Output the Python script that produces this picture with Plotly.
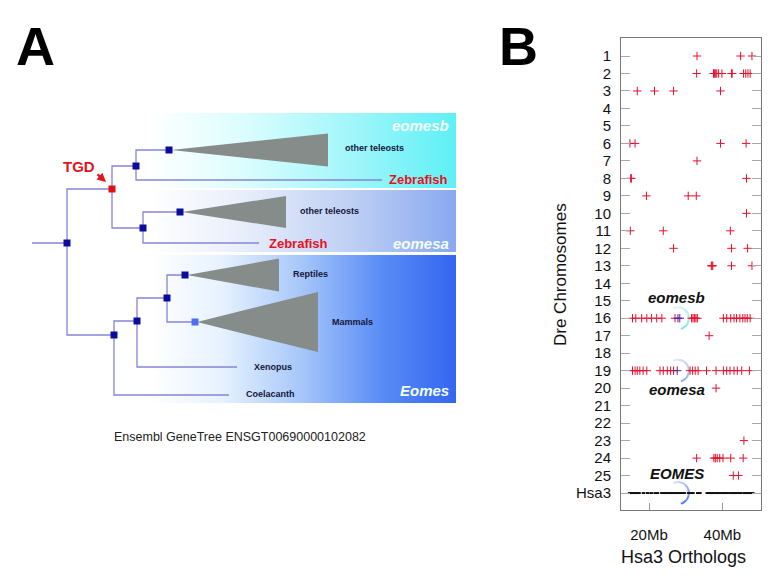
import numpy as np
import plotly.graph_objects as go

W, H = 777, 582
OFF = 8                      # page body margin of the html page
FW, FH = W - 2 * OFF, H - 2 * OFF
FONT = "Liberation Sans, Arial, sans-serif"

# ---------------- Panel B data ----------------
chrom_labels = [str(i) for i in range(1, 26)] + ["Hsa3"]
x_tick_vals = [20, 40]
x_tick_text = ["20Mb", "40Mb"]

# Dre ortholog positions (Mb on Hsa3) for chromosomes 1..25
hits_mb = [
    [33.1, 45.0, 48.1],                                                   # 1
    [33.0, 37.6, 37.9, 38.2, 38.5, 39.0, 39.9, 42.5, 42.7, 45.8, 46.4, 47.0, 47.6],  # 2
    [16.8, 21.5, 26.7, 39.5],                                             # 3
    [],                                                                   # 4
    [],                                                                   # 5
    [14.8, 16.2, 39.5, 46.5],                                             # 6
    [33.1],                                                               # 7
    [15.0, 15.2, 46.6],                                                   # 8
    [19.3, 30.7, 32.9],                                                   # 9
    [46.6],                                                               # 10
    [14.9, 23.9, 42.2],                                                   # 11
    [26.7, 42.5, 46.9],                                                   # 12
    [37.0, 37.2, 37.4, 42.5, 48.1],                                       # 13
    [],                                                                   # 14
    [],                                                                   # 15
    [15.5, 16.4, 18.0, 19.4, 20.7, 22.1, 23.5, 27.1, 31.6, 32.0, 32.4, 32.8, 33.2,
     40.3, 41.2, 42.3, 43.2, 43.9, 44.8, 45.6, 46.2, 46.8, 47.6],         # 16
    [36.4],                                                               # 17
    [],                                                                   # 18
    [15.5, 16.2, 16.8, 17.5, 18.4, 19.4, 23.0, 23.9, 25.0, 25.9, 26.7, 31.2, 31.9,
     32.6, 33.4, 35.7, 38.3, 40.3, 41.2, 42.1, 43.2, 44.1, 45.3, 47.4],   # 19
    [38.3],                                                               # 20
    [],                                                                   # 21
    [],                                                                   # 22
    [45.9],                                                               # 23
    [33.0, 37.7, 38.1, 38.6, 39.3, 40.2, 42.3, 45.7],                     # 24
    [43.0, 44.4],                                                         # 25
]
# EOMES orthologs themselves (highlighted)
eomes_rows = [16, 16, 19]
eomes_mb = [27.9, 28.4, 27.7]
eomes_labels = ["eomesb", "eomesa", "EOMES"]
eomes_label_rows = [14.84, 20.1, 24.86]
eomes_center_mb = 27.9
arc_rows = [16, 19, 26]

# Hsa3 genes (Mb)
hsa3_genes_mb = [14.7, 15.3, 16.0, 16.6, 17.3, 18.5, 19.6, 20.6, 21.7, 22.3,
                 23.5, 24.1, 24.7, 25.6, 26.2, 27.0, 27.6, 28.4, 29.0, 29.6,
                 30.8, 31.4, 32.0, 33.3, 33.9, 35.9, 36.5, 37.1, 37.7, 38.3,
                 38.9, 39.8, 40.4, 41.0, 41.6, 42.5, 43.1, 43.7, 44.3, 44.9,
                 45.9, 46.5, 47.1, 47.7, 48.3]

# ---------------- Panel A data (tree, pixel layout) ----------------
# node: (x, y, parent, marker)
tree_nodes = {
    "root":    (67, 243, None, "dark"),
    "tgd":     (112, 189, "root", "red"),
    "b_node":  (136, 166, "tgd", "dark"),
    "b_tele":  (169, 150, "b_node", "dark"),
    "b_zf":    (382, 180, "b_node", None),
    "a_node":  (143, 228, "tgd", "dark"),
    "a_tele":  (180, 212, "a_node", "dark"),
    "a_zf":    (259, 243, "a_node", None),
    "e_node":  (114, 335, "root", "dark"),
    "sarc":    (137, 321, "e_node", "dark"),
    "amniote": (167, 298, "sarc", "dark"),
    "rept":    (185, 275, "amniote", "dark"),
    "mamm":    (195, 322, "amniote", "light"),
    "xen":     (237, 367, "sarc", None),
    "coel":    (229, 395, "e_node", None),
}
root_stem_x = 32
# collapsed clades: (apex node, right x, half height)
clades = [("b_tele", 328, 16.5), ("a_tele", 286, 16), ("rept", 279, 16.5), ("mamm", 318, 30)]
leaf_labels = [
    ("other teleosts", 343, 148, "#15153a", 9),
    ("Zebrafish", 387, 180, "#e3141e", 13),
    ("other teleosts", 298, 211, "#15153a", 9),
    ("Zebrafish", 267, 243, "#e3141e", 13),
    ("Reptiles", 291, 274, "#15153a", 9),
    ("Mammals", 330, 322, "#15153a", 9),
    ("Xenopus", 252, 367, "#15153a", 9),
    ("Coelacanth", 244, 394, "#15153a", 9),
]
# background bands: (name, y0, y1, colorscale stops)
bands = [
    ("eomesb", 113, 188, [[0, "#ffffff"], [0.14, "#ffffff"], [0.4, "#dcfdfe"], [0.7, "#a2f6fa"], [1, "#5ef0f6"]]),
    ("eomesa", 190, 252, [[0, "#ffffff"], [0.14, "#ffffff"], [0.4, "#e8eefb"], [0.7, "#bfd0f4"], [1, "#88a8f0"]]),
    ("Eomes", 255, 403, [[0, "#ffffff"], [0.14, "#ffffff"], [0.34, "#e6f2fe"], [0.56, "#a8c8fa"], [0.79, "#5a8cf5"], [1, "#3366f0"]]),
]
band_x0, band_x1 = 100, 456
band_label_y = [125, 243, 390]

fig = go.Figure()

# ---- Panel A ----
for name, y0, y1, cs in bands:
    fig.add_trace(go.Scatter(
        x=[band_x0, band_x1, band_x1, band_x0, band_x0], y=[y0, y0, y1, y1, y0],
        mode="lines", line=dict(width=0), fill="toself",
        fillgradient=dict(type="horizontal", colorscale=cs),
        xaxis="x2", yaxis="y2", hoverinfo="skip", showlegend=False))

for apex, xr, hh in clades:
    ax_, ay_ = tree_nodes[apex][:2]
    fig.add_trace(go.Scatter(
        x=[ax_ + 2, xr, xr, ax_ + 2], y=[ay_, ay_ - hh, ay_ + hh, ay_],
        mode="lines", line=dict(width=0), fill="toself", fillcolor="#858c89",
        xaxis="x2", yaxis="y2", hoverinfo="skip", showlegend=False))

lx, ly = [root_stem_x, tree_nodes["root"][0], None], [tree_nodes["root"][1]] * 2 + [None]
for k, (x, y, parent, _) in tree_nodes.items():
    if parent is None:
        continue
    px, py = tree_nodes[parent][:2]
    lx += [px, px, x, None]
    ly += [py, y, y, None]
fig.add_trace(go.Scatter(x=lx, y=ly, mode="lines", line=dict(color="#8585d6", width=1.3),
                         xaxis="x2", yaxis="y2", hoverinfo="skip", showlegend=False))

node_colors = {"dark": "#0b0b9c", "red": "#dd1111", "light": "#4a70ee"}
for kind, col in node_colors.items():
    pts = [(v[0], v[1]) for v in tree_nodes.values() if v[3] == kind]
    fig.add_trace(go.Scatter(x=[p[0] for p in pts], y=[p[1] for p in pts], mode="markers",
                             marker=dict(symbol="square", size=7, color=col),
                             xaxis="x2", yaxis="y2", hoverinfo="skip", showlegend=False))

annotations = []
def pa(x, y):
    return (x - OFF) / FW, 1 - (y - OFF) / FH

for text, x, y, col, size in leaf_labels:
    X, Y = pa(x, y)
    annotations.append(dict(text=f"<b>{text}</b>", x=X, y=Y, xref="paper", yref="paper",
                            xanchor="left", yanchor="middle", showarrow=False,
                            font=dict(family=FONT, size=size, color=col)))
for (name, _, _, _), y in zip(bands, band_label_y):
    X, Y = pa(451, y)
    annotations.append(dict(text=f"<b><i>{name}</i></b>", x=X, y=Y, xref="paper", yref="paper",
                            xanchor="right", yanchor="middle", showarrow=False,
                            font=dict(family=FONT, size=15, color="#f2ffff")))
X, Y = pa(79, 166)
annotations.append(dict(text="<b>TGD</b>", x=X, y=Y, xref="paper", yref="paper",
                        xanchor="center", yanchor="middle", showarrow=False,
                        font=dict(family=FONT, size=15, color="#e3141e")))
X, Y = pa(106, 182)
annotations.append(dict(text="", x=X, y=Y, xref="paper", yref="paper", ax=-10, ay=-9,
                        showarrow=True, arrowhead=2, arrowsize=0.8, arrowwidth=2.2, arrowcolor="#e3141e"))
X, Y = pa(240, 437)
annotations.append(dict(text="Ensembl GeneTree ENSGT00690000102082", x=X, y=Y, xref="paper", yref="paper",
                        xanchor="center", yanchor="middle", showarrow=False,
                        font=dict(family=FONT, size=12.5, color="#222222")))
for letter, x in (("A", 35), ("B", 518)):
    X, Y = pa(x, 46)
    annotations.append(dict(text=f"<b>{letter}</b>", x=X, y=Y, xref="paper", yref="paper",
                            xanchor="center", yanchor="middle", showarrow=False,
                            font=dict(family=FONT, size=54, color="#000000")))

# ---- Panel B ----
X0, X1 = 12.36, 50.56
Y0, Y1 = 26.97, -0.03
px_l, px_r, px_t, px_b = 621, 761, 38, 510
ppm = (px_r - px_l) / (X1 - X0)
ppr = (px_b - px_t) / (Y0 - Y1)

arc_colors = ["#6fe2f0", "#86a6ec", "#3f70e4"]
for row, col in zip(arc_rows, arc_colors):
    t = np.linspace(np.deg2rad(115), np.deg2rad(-75), 7)
    r = 11
    for i in range(6):
        tt = np.linspace(t[i], t[i + 1], 6)
        fig.add_trace(go.Scatter(
            x=eomes_center_mb + r * np.cos(tt) / ppm, y=row - r * np.sin(tt) / ppr,
            mode="lines", line=dict(color=col, width=2), opacity=0.25 + 0.13 * i,
            hoverinfo="skip", showlegend=False))

hx, hy = [], []
for i, vals in enumerate(hits_mb):
    hx += vals
    hy += [i + 1] * len(vals)
fig.add_trace(go.Scatter(x=hx, y=hy, mode="markers",
                         marker=dict(symbol="cross-thin", size=6, color="#e8102c",
                                     line=dict(color="#e8102c", width=1)),
                         showlegend=False))
fig.add_trace(go.Scatter(x=eomes_mb, y=eomes_rows, mode="markers",
                         marker=dict(symbol="cross-thin", size=6, color="#5020a0",
                                     line=dict(color="#5020a0", width=1)),
                         showlegend=False))
fig.add_trace(go.Scatter(x=hsa3_genes_mb, y=[26] * len(hsa3_genes_mb), mode="markers",
                         marker=dict(symbol="line-ew", size=2.5,
                                     line=dict(color="#111111", width=2)),
                         showlegend=False))

for text, r in zip(eomes_labels, eomes_label_rows):
    annotations.append(dict(text=f"<b><i>{text}</i></b>", x=27.6, y=r, xref="x", yref="y",
                            showarrow=False, xanchor="center", yanchor="middle",
                            font=dict(family=FONT, size=15, color="#111111")))
X, Y = pa(560, 275)
annotations.append(dict(text="Dre Chromosomes", x=X, y=Y, xref="paper", yref="paper", textangle=-90,
                        showarrow=False, xanchor="center", yanchor="middle",
                        font=dict(family=FONT, size=17, color="#111111")))
X, Y = pa(683, 557)
annotations.append(dict(text="Hsa3 Orthologs", x=X, y=Y, xref="paper", yref="paper",
                        showarrow=False, xanchor="center", yanchor="middle",
                        font=dict(family=FONT, size=18, color="#111111")))

fig.update_layout(
    width=FW, height=FH, margin=dict(l=0, r=0, t=0, b=0),
    paper_bgcolor="white", plot_bgcolor="rgba(0,0,0,0)",
    showlegend=False, annotations=annotations,
    xaxis=dict(domain=[(px_l - OFF) / FW, (px_r - OFF) / FW], range=[X0, X1],
               tickvals=x_tick_vals, ticktext=x_tick_text,
               ticks="inside", ticklen=7, tickcolor="#999999", showline=True, linecolor="#777777",
               mirror=True, showgrid=False, zeroline=False, ticklabelstandoff=11,
               tickfont=dict(family=FONT, size=15, color="#111111")),
    yaxis=dict(domain=[1 - (px_b - OFF) / FH, 1 - (px_t - OFF) / FH], range=[Y0, Y1],
               tickvals=list(range(1, 27)), ticktext=chrom_labels,
               ticks="inside", ticklen=9, tickcolor="#aaaaaa", showline=True, linecolor="#777777",
               mirror="ticks", showgrid=False, zeroline=False, ticklabelstandoff=6,
               tickfont=dict(family=FONT, size=15, color="#111111")),
    xaxis2=dict(domain=[0, 1], range=[OFF, OFF + FW], visible=False, anchor="y2"),
    yaxis2=dict(domain=[0, 1], range=[OFF + FH, OFF], visible=False, anchor="x2"),
)

fig.write_html("out.html")
